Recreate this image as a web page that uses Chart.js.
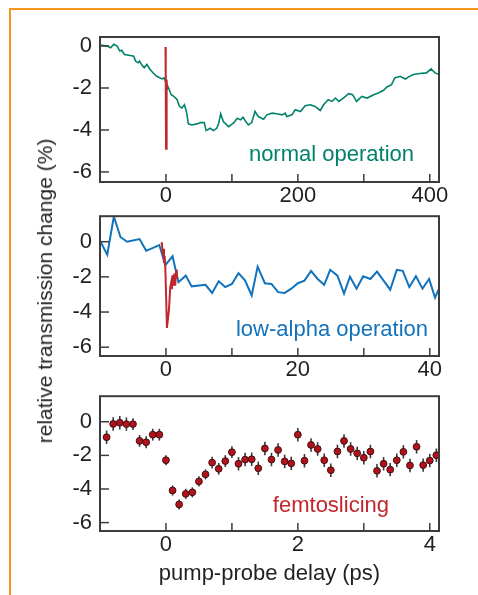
<!DOCTYPE html>
<html>
<head>
<meta charset="utf-8">
<script src="https://cdn.jsdelivr.net/npm/chart.js@4.4.0/dist/chart.umd.min.js"></script>
<style>
  body { margin: 0; background: #fff; }
  #page { position: relative; width: 478px; height: 595px; overflow: hidden; font-family: "Liberation Sans", Arial, sans-serif; }
  #frame { position: absolute; left: 9px; top: 8px; width: 500px; height: 620px; border-left: 2px solid #f7941d; border-top: 2px solid #f7941d; }
  .panel { position: absolute; left: 0; }
  #c1 { top: 0; }
  #c2 { top: 195px; }
  #c3 { top: 375px; }
  #ytitle { position: absolute; left: 45px; top: 291px; transform: translate(-50%, -50%) rotate(-90deg);
            white-space: nowrap; font-size: 21px; color: #231f20; }
</style>
</head>
<body>
<div id="page">
  <div id="frame"></div>
  <canvas id="c1" class="panel" width="478" height="215"></canvas>
  <canvas id="c2" class="panel" width="478" height="190"></canvas>
  <canvas id="c3" class="panel" width="478" height="220"></canvas>
  <div id="ytitle">relative transmission change (%)</div>
</div>
<script>
(function() {

  // normal operation (top panel), delay in ps
  var normalX = [-100, -89, -84, -79, -74, -70, -67, -63, -54, -49, -46, -42, -40, -36, -33, -29, -24, -19, -14, -6, -3, 0,
    4, 8, 12, 17, 20, 24, 28, 31, 34, 39, 47, 52, 58, 61, 67, 72, 77, 80, 83, 87, 95, 103, 108, 113, 117, 121, 125, 130,
    135, 140, 148, 153, 161, 168, 176, 181, 183, 191, 196, 204, 211, 219, 226, 234, 239, 246, 252, 257, 262, 269, 277,
    283, 289, 297, 305, 315, 322, 330, 335, 342, 347, 355, 363, 368, 375, 385, 395, 402, 408, 414];
  var normalY = [0.05, 0, -0.08, 0.08, 0, -0.24, -0.2, -0.4, -0.45, -0.48, -0.72, -0.8, -0.72, -0.93, -1.04, -0.88, -1.12,
    -1.3, -1.44, -1.57, -1.52, -1.73, -2.0, -2.32, -2.4, -2.56, -2.85, -2.96, -2.8, -3.12, -3.71, -3.76, -3.71, -3.65,
    -3.65, -4.03, -3.92, -4.03, -3.92, -3.68, -3.23, -3.6, -3.84, -3.65, -3.44, -3.52, -3.4, -3.6, -3.76, -3.65, -3.12,
    -3.36, -3.49, -3.28, -3.2, -3.23, -3.28, -3.2, -3.36, -3.28, -3.04, -3.12, -2.85, -2.8, -2.88, -3.07, -2.8, -2.56,
    -2.64, -2.48, -2.64, -2.48, -2.27, -2.32, -2.64, -2.4, -2.48, -2.32, -2.24, -2.11, -1.95, -1.84, -1.52, -1.44, -1.57,
    -1.47, -1.36, -1.31, -1.28, -1.09, -1.28, -1.36];

  // low-alpha operation (middle panel), delay in ps
  var lowAlphaX = [-10, -8.9, -7.9, -6.9, -5.9, -4, -3, -1, -0.1, 1, 1.9, 3, 3.9, 5, 6, 7, 8, 9, 10, 11, 12, 13, 13.9,
    15, 16, 17, 18, 19, 20, 21, 22, 23, 24, 24.9, 26, 27, 27.9, 28.9, 29.9, 31, 32, 33, 34, 35, 35.9, 36.9, 37.9, 38.9,
    39.9, 40.8, 41.4];
  var lowAlphaY = [0.06, -0.74, 1.43, 0.27, 0, 0.15, -0.52, -0.19, -1.33, -0.83, -2.3, -1.93, -2.54, -2.49, -2.45, -2.91,
    -2.25, -2.58, -2.4, -1.79, -2.21, -3.06, -1.42, -2.36, -2.4, -2.87, -2.91, -2.67, -2.36, -2.21, -1.66, -2.12, -2.45,
    -1.6, -1.93, -2.95, -1.99, -2.67, -1.97, -2.12, -1.7, -2.21, -2.73, -1.6, -1.66, -2.58, -1.97, -2.67, -2.12, -3.18,
    -2.67];

  // short-time trace shown in red in the top two panels
  var fastX = [-0.75, -0.6, -0.5, -0.4, -0.3, -0.2, -0.1, 0.15, 0.45, 0.65, 0.8, 0.9, 1.05, 1.15, 1.3, 1.4, 1.55, 1.65];
  var fastY = [-0.05, -0.1, -0.7, -0.4, -1.2, -0.8, -1.4, -4.9, -3.9, -2.6, -2.3, -2.7, -1.9, -2.5, -1.8, -2.5, -1.6, -2.1];

  // femtoslicing (bottom panel), delay in ps
  var femtoX = [-0.9, -0.8, -0.7, -0.6, -0.5, -0.4, -0.3, -0.2, -0.1, 0, 0.1, 0.2, 0.3, 0.4, 0.5, 0.6, 0.7, 0.8, 0.9,
    1.0, 1.1, 1.2, 1.3, 1.4, 1.5, 1.6, 1.7, 1.8, 1.9, 2.0, 2.1, 2.2, 2.3, 2.4, 2.5, 2.6, 2.7, 2.8, 2.9, 3.0, 3.1, 3.2,
    3.3, 3.4, 3.5, 3.6, 3.7, 3.8, 3.9, 4.0, 4.1];
  var femtoY = [-0.92, -0.13, -0.06, -0.14, -0.14, -1.14, -1.22, -0.77, -0.77, -2.29, -4.09, -4.92, -4.29, -4.2, -3.55,
    -3.13, -2.43, -2.8, -2.34, -1.81, -2.5, -2.25, -2.23, -2.77, -1.59, -2.25, -1.68, -2.36, -2.48, -0.77, -2.32, -1.38,
    -1.62, -2.29, -2.88, -1.77, -1.14, -1.62, -1.88, -2.14, -1.77, -2.92, -2.5, -2.85, -2.29, -1.79, -2.6, -1.49, -2.58,
    -2.31, -1.99];
  var femtoErr = [0.4, 0.4, 0.4, 0.4, 0.35, 0.35, 0.35, 0.35, 0.35, 0.3, 0.3, 0.3, 0.3, 0.3, 0.3, 0.3, 0.35, 0.35,
    0.35, 0.35, 0.4, 0.4, 0.4, 0.4, 0.4, 0.4, 0.4, 0.4, 0.4, 0.4, 0.4, 0.4, 0.4, 0.4, 0.4, 0.4, 0.4, 0.4, 0.4,
    0.4, 0.4, 0.4, 0.4, 0.4, 0.4, 0.4, 0.4, 0.4, 0.4, 0.4, 0.4];

  // axis ranges and labelled tick steps
  var xRanges = [[-100, 414, 100, 200], [-10, 41.4, 10, 20], [-1, 4.14, 1, 2]];
  var yRanges = [[-6.48, 0.43], [-6.5, 1.45], [-6.5, 1.52]];
  var labels = ['normal operation', 'low-alpha operation', 'femtoslicing'];

  var TEAL = '#00826b', BLUE = '#1272bb', RED = '#c1272d', INK = '#231f20', FRAME = '#3c3c3c';
  var FONT = '"Liberation Sans", Arial, sans-serif';

  function pts(xs, ys) {
    return xs.map(function(x, i) { return {x: x, y: ys[i]}; });
  }

  // box around the plot + inward tick marks
  var framePlugin = {
    id: 'frame',
    afterDraw: function(chart) {
      var ctx = chart.ctx, a = chart.chartArea;
      var xs = chart.scales.x, ys = chart.scales.y;
      ctx.save();
      ctx.strokeStyle = FRAME;
      ctx.lineWidth = 1.5;
      xs.ticks.forEach(function(t) {
        var px = xs.getPixelForValue(t.value);
        if (px <= a.left + 1 || px >= a.right - 1) return;
        ctx.beginPath();
        ctx.moveTo(px, a.bottom);
        ctx.lineTo(px, a.bottom - 8);
        ctx.stroke();
      });
      ys.ticks.forEach(function(t) {
        var py = ys.getPixelForValue(t.value);
        ctx.beginPath();
        ctx.moveTo(a.left, py);
        ctx.lineTo(a.left + 9, py);
        ctx.stroke();
      });
      ctx.lineWidth = 2;
      ctx.strokeRect(a.left, a.top, a.right - a.left, a.bottom - a.top);
      ctx.restore();
    }
  };

  // label inside the plot, right aligned
  var notePlugin = {
    id: 'note',
    afterDraw: function(chart, args, opts) {
      var ctx = chart.ctx, a = chart.chartArea;
      ctx.save();
      ctx.font = '22px ' + FONT;
      ctx.fillStyle = opts.color;
      ctx.textAlign = 'right';
      ctx.textBaseline = 'middle';
      ctx.fillText(opts.text, a.right - opts.dx, a.bottom - opts.dy);
      ctx.restore();
    }
  };

  // vertical error bars for the femtoslicing points
  var errorPlugin = {
    id: 'errbars',
    beforeDatasetsDraw: function(chart) {
      if (chart.canvas.id !== 'c3') return;
      var ctx = chart.ctx, xs = chart.scales.x, ys = chart.scales.y;
      ctx.save();
      ctx.strokeStyle = '#3a3a3a';
      ctx.lineWidth = 1.6;
      femtoX.forEach(function(x, i) {
        var px = xs.getPixelForValue(x);
        ctx.beginPath();
        ctx.moveTo(px, ys.getPixelForValue(femtoY[i] + femtoErr[i]));
        ctx.lineTo(px, ys.getPixelForValue(femtoY[i] - femtoErr[i]));
        ctx.stroke();
      });
      ctx.restore();
    }
  };

  function makePanel(id, idx, datasets, pad, axisH, note, withTitle) {
    var xr = xRanges[idx], yr = yRanges[idx];
    return new Chart(document.getElementById(id), {
      type: 'scatter',
      data: {datasets: datasets},
      plugins: [framePlugin, notePlugin, errorPlugin],
      options: {
        responsive: false,
        animation: false,
        events: [],
        layout: {padding: {left: 0, right: 39, top: pad, bottom: 0}},
        plugins: {
          legend: {display: false},
          tooltip: {enabled: false},
          note: note
        },
        scales: {
          x: {
            type: 'linear',
            min: xr[0], max: xr[1],
            grid: {display: false, drawTicks: false},
            border: {display: false},
            afterFit: function(s) { s.height = axisH; },
            title: {
              display: !!withTitle,
              text: 'pump-probe delay (ps)',
              color: INK,
              font: {family: FONT, size: 22},
              padding: {top: 0, bottom: 8}
            },
            ticks: {
              stepSize: xr[2],
              includeBounds: false,
              autoSkip: false,
              maxRotation: 0,
              padding: 1,
              color: INK,
              font: {family: FONT, size: 22},
              callback: function(v) {
                var r = Math.abs(v / xr[3] - Math.round(v / xr[3]));
                return r < 1e-6 ? String(Math.round(v)) : '';
              }
            }
          },
          y: {
            type: 'linear',
            min: yr[0], max: yr[1],
            grid: {display: false, drawTicks: false},
            border: {display: false},
            afterFit: function(s) { s.width = 100; },
            ticks: {
              stepSize: 2,
              includeBounds: false,
              padding: 8,
              color: INK,
              font: {family: FONT, size: 22},
              callback: function(v) { return String(v); }
            }
          }
        }
      }
    });
  }

  var lineStyle = function(data, color, w, order) {
    return {data: data, showLine: true, borderColor: color, borderWidth: w, pointRadius: 0,
            tension: 0, fill: false, order: order};
  };

  makePanel('c1', 0, [
    lineStyle(pts(fastX, fastY), RED, 2, 0),
    lineStyle(pts(normalX, normalY), TEAL, 1.6, 1)
  ], 37, 33, {text: labels[0], color: TEAL, dx: 25, dy: 27});

  makePanel('c2', 1, [
    lineStyle(pts(fastX, fastY), RED, 2, 0),
    lineStyle(pts(lowAlphaX, lowAlphaY), BLUE, 2, 1)
  ], 17, 29, {text: labels[1], color: BLUE, dx: 11, dy: 26});

  makePanel('c3', 2, [{
    data: pts(femtoX, femtoY),
    showLine: false,
    pointRadius: 3.4,
    pointBackgroundColor: '#b3121d',
    pointBorderColor: '#3a1010',
    pointBorderWidth: 1
  }], 11, 64, {text: labels[2], color: RED, dx: 50, dy: 25}, true);

}());
</script>
</body>
</html>
